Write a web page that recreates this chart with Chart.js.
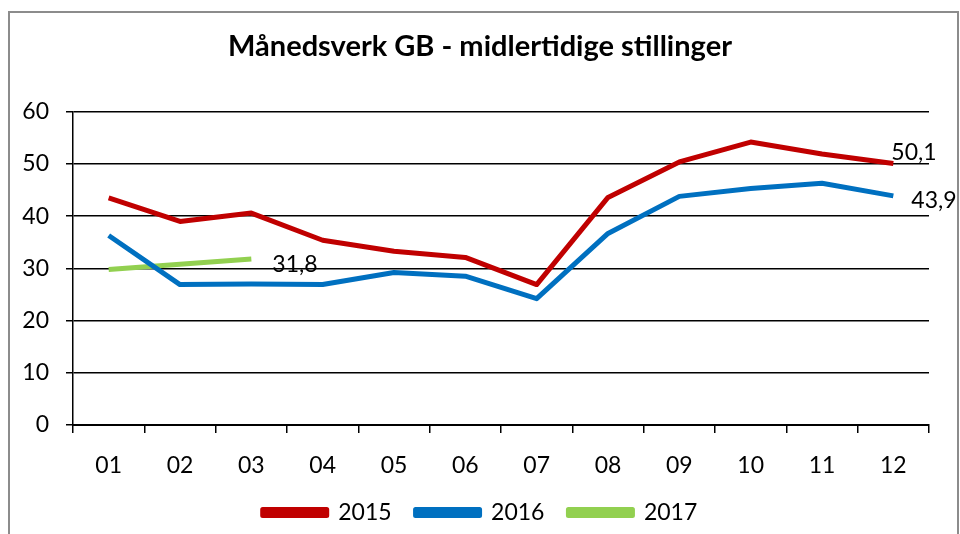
<!DOCTYPE html>
<html>
<head>
<meta charset="utf-8">
<script src="https://cdn.jsdelivr.net/npm/chart.js@4/dist/chart.umd.min.js"></script>
<style>
html,body{margin:0;padding:0;background:#fff;}
#wrap{position:relative;width:960px;height:534px;}
canvas{display:block;}
</style>
</head>
<body>
<div id="wrap"><canvas id="c" width="960" height="534"></canvas></div>
<script>
const months = ["01","02","03","04","05","06","07","08","09","10","11","12"];
const series2015 = [43.5, 39.0, 40.6, 35.4, 33.3, 32.1, 26.9, 43.6, 50.4, 54.2, 51.9, 50.1];
const series2016 = [36.3, 26.9, 27.0, 26.9, 29.2, 28.5, 24.2, 36.7, 43.8, 45.3, 46.3, 43.9];
const series2017 = [29.8, 30.8, 31.8];
const seriesNames = ["2015", "2016", "2017"];
const titleText = "Månedsverk GB - midlertidige stillinger";

const FONT = "Lato, 'Liberation Sans', sans-serif";

const frame = {
  id: 'frame',
  beforeDraw(chart) {
    const ctx = chart.ctx;
    ctx.save();
    ctx.fillStyle = '#fff';
    ctx.fillRect(0, 0, chart.width, chart.height);
    ctx.strokeStyle = '#8c8c8c';
    ctx.lineWidth = 2;
    ctx.strokeRect(9, 12, 949, 540);
    ctx.restore();
  }
};

const lastLabels = {
  id: 'lastLabels',
  afterDatasetsDraw(chart) {
    const ctx = chart.ctx;
    const offsets = [[-2, -11], [18, 5], [21, 6]];
    ctx.save();
    ctx.font = "23px " + FONT;
    ctx.fillStyle = '#000';
    ctx.textAlign = 'left';
    ctx.textBaseline = 'middle';
    chart.data.datasets.forEach((ds, i) => {
      const meta = chart.getDatasetMeta(i);
      const idx = ds.data.length - 1;
      const pt = meta.data[idx];
      const txt = ds.data[idx].toFixed(1).replace('.', ',');
      ctx.fillText(txt, pt.x + offsets[i][0], pt.y + offsets[i][1]);
    });
    ctx.restore();
  }
};

new Chart(document.getElementById('c'), {
  type: 'line',
  data: {
    labels: months,
    datasets: [
      { label: seriesNames[0], data: series2015, borderColor: '#C00000', backgroundColor: '#C00000' },
      { label: seriesNames[1], data: series2016, borderColor: '#0070C0', backgroundColor: '#0070C0' },
      { label: seriesNames[2], data: series2017, borderColor: '#92D050', backgroundColor: '#92D050' }
    ]
  },
  options: {
    responsive: false,
    animation: false,
    devicePixelRatio: 1,
    elements: {
      line: { borderWidth: 5, tension: 0, borderCapStyle: 'butt', borderJoinStyle: 'round' },
      point: { radius: 0, hoverRadius: 0 }
    },
    layout: { padding: { left: 0, right: 0, top: 12, bottom: 0 } },
    plugins: {
      title: {
        display: true,
        text: titleText,
        color: '#000',
        font: { family: FONT, size: 29, weight: 'bold' },
        padding: { top: 17, bottom: 48 }
      },
      legend: {
        position: 'bottom',
        maxHeight: 58,
        labels: {
          color: '#000',
          font: { family: FONT, size: 23 },
          boxWidth: 64,
          boxHeight: 6,
          padding: 24
        }
      },
      tooltip: { enabled: false }
    },
    scales: {
      x: {
        offset: true,
        afterFit(scale) { scale.height = 52; },
        grid: {
          offset: true,
          drawOnChartArea: false,
          drawTicks: true,
          tickLength: 8,
          color: '#000',
          lineWidth: 1.5
        },
        border: { color: '#000', width: 2 },
        ticks: { color: '#000', font: { family: FONT, size: 23 }, padding: 19, maxRotation: 0 }
      },
      y: {
        min: 0,
        max: 60,
        afterFit(scale) { scale.width = 73; },
        grid: { color: '#000', lineWidth: 1.5, tickLength: 7 },
        border: { color: '#000', width: 1.5 },
        ticks: { stepSize: 10, color: '#000', font: { family: FONT, size: 23 }, padding: 17 }
      },
      yRight: {
        position: 'right',
        display: true,
        afterFit(scale) { scale.width = 31; },
        grid: { display: false, drawTicks: false },
        border: { display: false },
        ticks: { display: false }
      }
    }
  },
  plugins: [frame, lastLabels]
});
</script>
</body>
</html>
